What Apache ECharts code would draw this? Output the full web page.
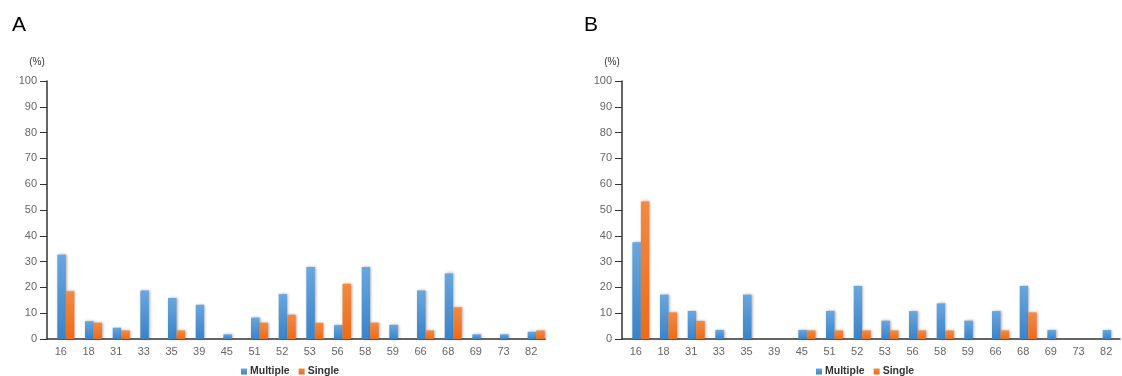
<!DOCTYPE html>
<html>
<head>
<meta charset="utf-8">
<style>
  html, body { margin: 0; padding: 0; background: #fff; }
  #chart { width: 1122px; height: 376px; }
</style>
<script src="https://cdn.jsdelivr.net/npm/echarts@6/dist/echarts.min.js"></script>
</head>
<body>
<div id="chart"></div>
<script>
// categorias del eje x (compartidas por los dos paneles)
const categories = ['16', '18', '31', '33', '35', '39', '45', '51', '52', '53', '56', '58', '59', '66', '68', '69', '73', '82'];

// Panel A
const multipleA = [32.7, 6.9, 4.4, 18.8, 15.9, 13.3, 1.8, 8.3, 17.4, 27.9, 5.4, 27.9, 5.5, 18.8, 25.4, 1.8, 1.8, 2.8];
const singleA   = [18.5, 6.3, 3.3, 0, 3.3, 0, 0, 6.3, 9.4, 6.3, 21.4, 6.3, 0, 3.3, 12.3, 0, 0, 3.3];

// Panel B
const multipleB = [37.5, 17.2, 10.9, 3.5, 17.2, 0, 3.5, 10.9, 20.6, 7.1, 10.8, 13.8, 7.1, 10.8, 20.6, 3.5, 0, 3.5];
const singleB   = [53.3, 10.3, 7.0, 0, 0, 0, 3.3, 3.3, 3.3, 3.3, 3.3, 3.3, 0, 3.3, 10.3, 0, 0, 0];

const chart = echarts.init(document.getElementById('chart'));

const blue = new echarts.graphic.LinearGradient(0, 0, 0, 1, [
  { offset: 0, color: '#6aa6de' },
  { offset: 1, color: '#3a83c8' }
]);
const orange = new echarts.graphic.LinearGradient(0, 0, 0, 1, [
  { offset: 0, color: '#f38943' },
  { offset: 1, color: '#ea6c1a' }
]);
const shadow = { shadowColor: 'rgba(0,0,0,0.35)', shadowBlur: 3, shadowOffsetX: 1, shadowOffsetY: 0 };

const makeXAxis = (gridIndex) => ({
  type: 'category',
  gridIndex,
  data: categories,
  axisLine: { lineStyle: { color: '#333', width: 1.5 } },
  axisTick: { show: false },
  axisLabel: { color: '#666', fontSize: 11, margin: 7 }
});

const makeYAxis = (gridIndex) => ({
  type: 'value',
  gridIndex,
  min: 0,
  max: 100,
  interval: 10,
  name: '(%)',
  nameLocation: 'end',
  nameGap: 14,
  nameTextStyle: { color: '#333', fontSize: 10, align: 'center', padding: [0, 20, 0, 0] },
  axisLine: { show: true, lineStyle: { color: '#333', width: 1.5 } },
  axisTick: { show: true, inside: false, length: 7, lineStyle: { color: '#333' } },
  axisLabel: { color: '#666', fontSize: 11, margin: 10 },
  splitLine: { show: false }
});

// serie vacía que solo reserva hueco a la izquierda de cada par de barras
const makeSpacer = (idx) => ({
  name: 'spacer',
  type: 'bar',
  xAxisIndex: idx,
  yAxisIndex: idx,
  data: [],
  barWidth: 10,
  barGap: '0%',
  silent: true,
  itemStyle: { color: 'transparent' }
});

const makeBar = (name, data, color, idx) => ({
  name,
  type: 'bar',
  xAxisIndex: idx,
  yAxisIndex: idx,
  data,
  barWidth: 8.5,
  barGap: '0%',
  itemStyle: { color, ...shadow }
});

const legendStyle = {
  data: ['Multiple', 'Single'], top: 361,
  itemWidth: 6, itemHeight: 6, itemGap: 9, icon: 'rect',
  textStyle: { color: '#333', fontSize: 10.5, fontWeight: 'bold', padding: [0, 0, 0, -2] }
};

const option = {
  animation: false,
  textStyle: { fontFamily: 'Liberation Sans, Arial, sans-serif' },
  title: [
    { text: 'A', left: 7, top: 10, textStyle: { fontSize: 21, fontWeight: 'normal', color: '#000' } },
    { text: 'B', left: 579, top: 10, textStyle: { fontSize: 21, fontWeight: 'normal', color: '#000' } }
  ],
  legend: [
    { ...legendStyle, left: 236 },
    { ...legendStyle, left: 811 }
  ],
  grid: [
    { left: 47, top: 81, width: 498, height: 258 },
    { left: 622, top: 81, width: 498, height: 258 }
  ],
  xAxis: [makeXAxis(0), makeXAxis(1)],
  yAxis: [makeYAxis(0), makeYAxis(1)],
  series: [
    makeSpacer(0),
    makeBar('Multiple', multipleA, blue, 0),
    makeBar('Single', singleA, orange, 0),
    makeSpacer(1),
    makeBar('Multiple', multipleB, blue, 1),
    makeBar('Single', singleB, orange, 1)
  ]
};

chart.setOption(option);
</script>
</body>
</html>
